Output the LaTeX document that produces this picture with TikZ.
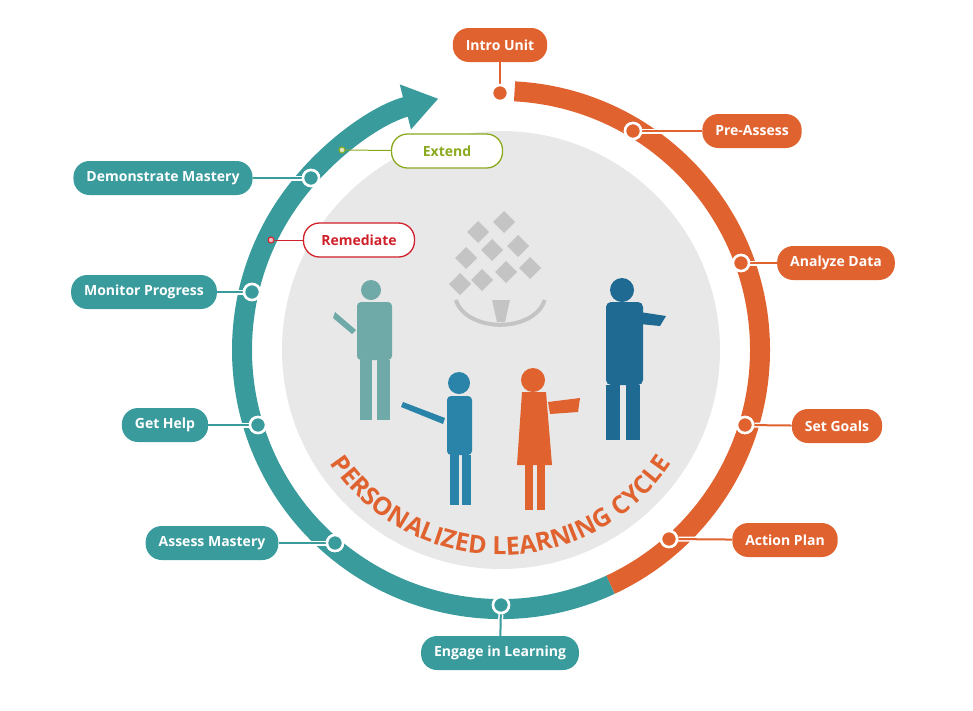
\documentclass[tikz,border=0pt]{standalone}
\usepackage{fontspec}
\setmainfont{Open Sans}
\usetikzlibrary{arrows.meta,decorations.text,calc}
\definecolor{org}{HTML}{E0622F}
\definecolor{tea}{HTML}{3A9B9D}
\definecolor{dsc}{HTML}{E8E8E8}
\definecolor{olv}{HTML}{8AAA1E}
\definecolor{rd}{HTML}{D0202A}
\definecolor{lg}{HTML}{C4C4C4}
\definecolor{p1}{HTML}{6FAAA8}
\definecolor{p2}{HTML}{2A83A8}
\definecolor{p4}{HTML}{1E6A92}
\tikzset{
 lbl/.style={rounded corners=16pt,minimum height=34pt,inner xsep=13pt,text=white,font=\fontsize{14}{16}\selectfont\bfseries},
 olbl/.style={lbl,fill=org},
 tlbl/.style={lbl,fill=tea},
 pin/.style={circle,draw=white,fill=#1,line width=2.5pt,minimum size=16pt,inner sep=0pt},
 con/.style={line width=2pt,draw=#1,preaction={draw=white,line width=5pt}},
 wlbl/.style={lbl,fill=white,draw=#1,line width=1.3pt,text=#1,minimum width=111pt},
 dot/.style={circle,fill=#1!30,draw=#1,line width=1pt,minimum size=6pt,inner sep=0pt},
}
\begin{document}
\begin{tikzpicture}[x=1pt,y=-1pt]
\useasboundingbox (0,0) rectangle (973,710);
\coordinate (c) at (501,350);
\fill[dsc] (c) circle (219);
% ring
\draw[org,line width=20pt] ($(c)+(-87:259)$) arc (-87:65:259);
\draw[tea,line width=20pt,-{Triangle[length=34pt,width=44pt]}] ($(c)+(65:259)$) arc (65:256:259);
% logo
\begin{scope}[lg]
\foreach \p in {(478,232),(504,222),(492,250),(518,246),(466,258),(530,268),(506,272),(482,280),(460,284)}
 \fill \p ++(0,-11) -- ++(11,11) -- ++(-11,11) -- ++(-11,-11) -- cycle;
\draw[line width=4pt] (456,300) arc (170:10:45 and 30);
\fill (492,300) -- (497,322) -- (505,322) -- (510,300) -- cycle;
\end{scope}
% people
\begin{scope}[p1]
\fill (371,290) circle (10);
\fill[rounded corners=4pt] (357,302) rectangle (392,360);
\fill (360,360) rectangle (372,420);
\fill (377,360) rectangle (390,420);
\fill (335,312) -- (356,330) -- (352,334) -- (333,318) -- cycle;
\end{scope}
\begin{scope}[p2]
\fill (459,383) circle (11);
\fill[rounded corners=4pt] (447,396) rectangle (472,455);
\fill (450,455) rectangle (459,505);
\fill (462,455) rectangle (471,505);
\fill (403,402) -- (445,418) -- (443,424) -- (401,407) -- cycle;
\end{scope}
\begin{scope}[org]
\fill (533,380) circle (12);
\fill (522,392) -- (546,392) -- (552,465) -- (517,465) -- cycle;
\fill (525,465) rectangle (533,510);
\fill (537,465) rectangle (545,510);
\fill (548,402) -- (580,398) -- (578,412) -- (550,414) -- cycle;
\end{scope}
\begin{scope}[p4]
\fill (622,290) circle (12);
\fill[rounded corners=5pt] (606,302) rectangle (643,385);
\fill (606,385) rectangle (620,440);
\fill (626,385) rectangle (640,440);
\fill (640,312) -- (666,316) -- (660,326) -- (640,324) -- cycle;
\end{scope}
% curved text
\path[decorate,decoration={text along path,text align=center,
 text={|\fontsize{25}{25}\bfseries\color{org}|PERSONALIZED LEARNING CYCLE}}]
 ($(c)+(153:205)$) arc (153:27:205);
% labels
\node[olbl] (t1) at (500,45) {Intro Unit};
\node[pin=org] (c1) at (500,93) {};
\node[olbl] (t2) at (752,131) {Pre-Assess};
\node[pin=org] (c2) at (633,131) {};
\node[olbl] (t3) at (836,263) {Analyze Data};
\node[pin=org] (c3) at (741,263) {};
\node[olbl] (t4) at (837,426) {Set Goals};
\node[pin=org] (c4) at (745,425) {};
\node[olbl] (t5) at (785,540) {Action Plan};
\node[pin=org] (c5) at (669,539) {};
\node[tlbl] (t6) at (500,653) {Engage in Learning};
\node[pin=tea] (c6) at (501,605) {};
\node[tlbl] (t7) at (212,543) {Assess Mastery};
\node[pin=tea] (c7) at (335,543) {};
\node[tlbl] (t8) at (165,425) {Get Help};
\node[pin=tea] (c8) at (258,425) {};
\node[tlbl] (t9) at (144,292) {Monitor Progress};
\node[pin=tea] (c9) at (252,292) {};
\node[tlbl] (t10) at (163,178) {Demonstrate Mastery};
\node[pin=tea] (c10) at (311,178) {};
\node[wlbl=olv] (t11) at (447,151) {Extend};
\node[dot=olv] (c11) at (342,150) {};
\node[wlbl=rd] (t12) at (359,240) {Remediate};
\node[dot=rd] (c12) at (271,240) {};
\foreach \a/\b/\k in {c1/t1/org,c2/t2/org,c3/t3/org,c4/t4/org,c5/t5/org,c6/t6/tea,c7/t7/tea,c8/t8/tea,c9/t9/tea,c10/t10/tea}
 \draw[con=\k] (\a) -- (\b);
\foreach \a/\k in {c1/org,c2/org,c3/org,c4/org,c5/org,c6/tea,c7/tea,c8/tea,c9/tea,c10/tea}
 \node[pin=\k] at (\a) {};
\draw[olv,line width=1pt] (c11) -- (t11);
\draw[rd,line width=1pt] (c12) -- (t12);
\end{tikzpicture}
\end{document}
